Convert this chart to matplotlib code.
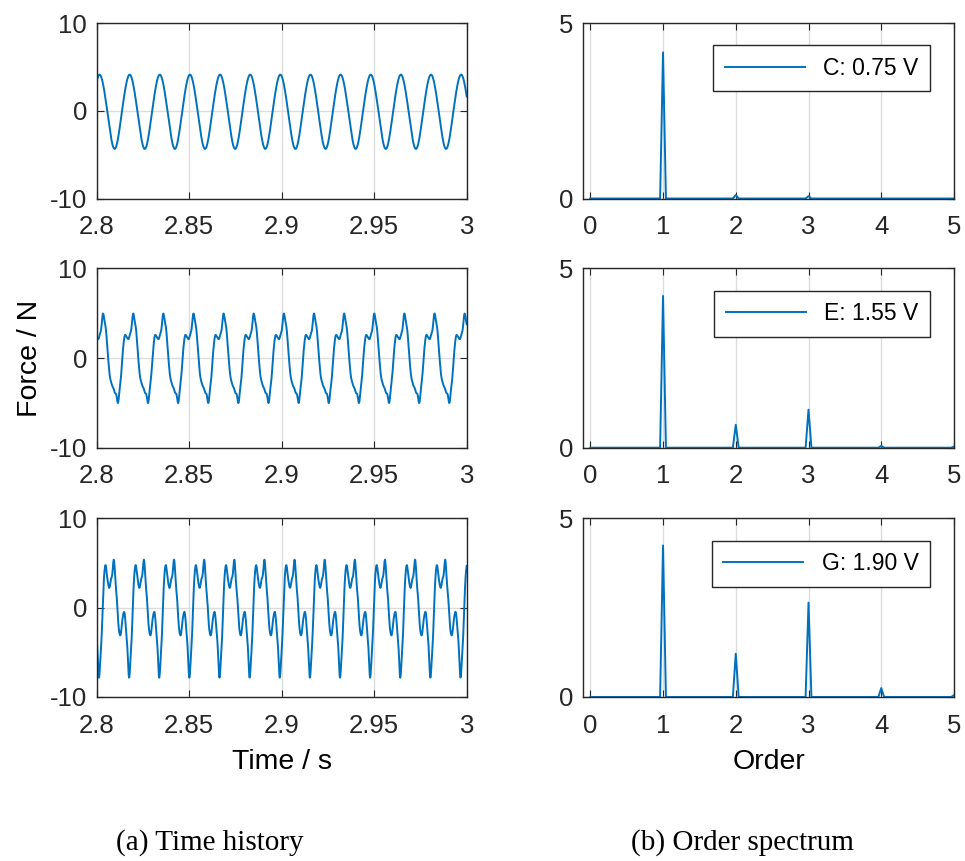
import numpy as np
import matplotlib
matplotlib.use("Agg")
import matplotlib.pyplot as plt

# fundamental frequency of the force signal (Hz) and time window
f0 = 61.4
t_start, t_end = 2.8, 3.0

# harmonic content per case: orders, amplitudes (N), phases (deg)
# phases are relative to a reference time t_ref for each case
labels = ["C: 0.75 V", "E: 1.55 V", "G: 1.90 V"]
t_ref = [2.8504, 2.8522, 2.8500]

orders_c = [1, 2, 3]
amps_c = [4.17, 0.10, 0.07]
phase_c = [0, 180, 0]

orders_e = [1, 2, 3, 4, 5, 7, 9, 11]
amps_e = [4.23, 0.64, 1.06, 0.05, 0.03, 0.14, 0.11, 0.08]
phase_e = [24, -96, -45, 65, 13, 0, 0, 0]

orders_g = [1, 2, 3, 4, 5, 7, 9, 11]
amps_g = [4.24, 1.21, 2.64, 0.25, 0.05, 0.22, 0.2, 0.15]
phase_g = [-146, 153, 158, 123, 151, 180, 180, 180]

blue = "#0072BD"


def time_history(t, tr, orders, amps, phases):
    x = np.zeros_like(t)
    for k, a, p in zip(orders, amps, phases):
        x += a * np.cos(2 * np.pi * k * f0 * (t - tr) + np.radians(p))
    return x


def order_spectrum(grid, orders, amps):
    s = np.zeros_like(grid)
    for k, a in zip(orders, amps):
        if k <= grid[-1]:
            s[np.argmin(np.abs(grid - k))] = a
    return s


plt.rcParams["font.family"] = ["Liberation Sans", "DejaVu Sans"]
plt.rcParams["axes.unicode_minus"] = False

fig = plt.figure(figsize=(9.65, 8.61), dpi=100)
W, H = 965.0, 861.0
rows = [(23.3, 198.5), (268.3, 447.7), (518.3, 697.0)]
cases = [(orders_c, amps_c, phase_c), (orders_e, amps_e, phase_e), (orders_g, amps_g, phase_g)]

t = np.linspace(t_start, t_end, 2001)
grid = np.linspace(0, 5, 126)


def style(ax):
    ax.tick_params(direction="in", top=True, right=True, length=5, width=0.8,
                   labelsize=18.5, colors="#262626", pad=7)
    ax.tick_params(axis="x", pad=12)
    for s in ax.spines.values():
        s.set_linewidth(1.0)
        s.set_color("#262626")
    ax.grid(True, color="#dcdcdc", linewidth=1.0)
    ax.set_axisbelow(True)


for i, ((y0, y1), (o, a, p)) in enumerate(zip(rows, cases)):
    ax = fig.add_axes([96.7 / W, 1 - y1 / H, 370 / W, (y1 - y0) / H])
    ax.plot(t, time_history(t, t_ref[i], o, a, p), color=blue, lw=1.4)
    ax.set_xlim(t_start, t_end)
    ax.set_ylim(-10, 10)
    ax.set_yticks([-10, 0, 10])
    ax.set_xticks([2.8, 2.85, 2.9, 2.95, 3.0])
    ax.set_xticklabels(["2.8", "2.85", "2.9", "2.95", "3"])
    style(ax)
    if i == 1:
        ax.set_ylabel("Force / N", fontsize=20.5, labelpad=5)
    if i == 2:
        ax.set_xlabel("Time / s", fontsize=20.5, labelpad=8)

    ax2 = fig.add_axes([583 / W, 1 - y1 / H, 371 / W, (y1 - y0) / H])
    ax2.plot(grid, order_spectrum(grid, o, a), color=blue, lw=1.4, label=labels[i])
    ax2.set_xlim(-0.1, 5)
    ax2.set_ylim(0, 5)
    ax2.set_yticks([0, 5])
    ax2.set_xticks([0, 1, 2, 3, 4, 5])
    style(ax2)
    leg = ax2.legend(loc="upper right", bbox_to_anchor=(0.935, 0.875), fontsize=16.5,
                     handlelength=3.5, fancybox=False, framealpha=1,
                     edgecolor="#262626", borderpad=0.5, borderaxespad=0)
    leg.get_frame().set_linewidth(1.0)
    if i == 2:
        ax2.set_xlabel("Order", fontsize=20.5, labelpad=8)

fig.text(210 / W, 1 - 843 / H, "(a) Time history", family="Liberation Serif",
         fontsize=21, ha="center", va="center")
fig.text(742 / W, 1 - 843 / H, "(b) Order spectrum", family="Liberation Serif",
         fontsize=21, ha="center", va="center")

fig.savefig("out.png", dpi=100)
